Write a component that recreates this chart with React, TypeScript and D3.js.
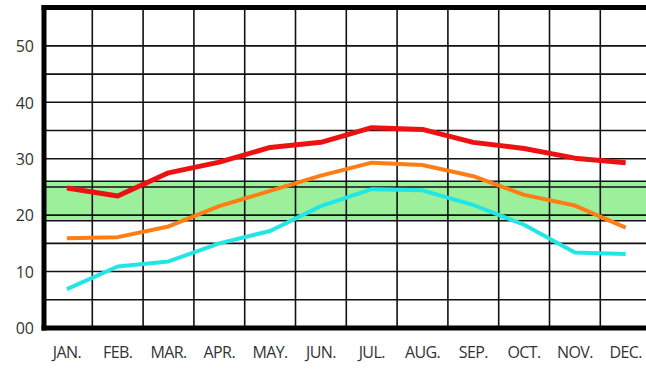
import React from "react";
import * as d3 from "d3";

const months = ["JAN.", "FEB.", "MAR.", "APR.", "MAY.", "JUN.", "JUL.", "AUG.", "SEP.", "OCT.", "NOV.", "DEC."];
const maxTemp = [24.8, 23.4, 27.5, 29.4, 32.0, 32.9, 35.5, 35.2, 32.9, 31.8, 30.1, 29.3];
const meanTemp = [15.9, 16.1, 18.0, 21.6, 24.3, 27.0, 29.3, 28.9, 26.9, 23.6, 21.7, 17.8];
const minTemp = [6.9, 10.9, 11.8, 15.0, 17.2, 21.6, 24.6, 24.4, 21.8, 18.3, 13.4, 13.1];
const yTicks = [0, 10, 20, 30, 40, 50];
const yTickLabels = ["00", "10", "20", "30", "40", "50"];
const gridValues = [5, 10, 15, 20, 25, 30, 35, 40, 45, 50];
const comfortBand = [19, 26];

const W = 646;
const H = 370;

export default function App() {
  const y = d3.scaleLinear().domain([0, 56.8]).range([328, 7.5]);
  const x = d3.scaleBand<string>().domain(months).range([41.5, 651.1]);
  const cx = (m: string) => (x(m) as number) + x.bandwidth() / 2;

  const line = d3
    .line<number>()
    .x((_, i) => cx(months[i]))
    .y((d) => y(d))
    .curve(d3.curveLinear);

  const series = [
    { values: minTemp, color: "#22e6e6", width: 4 },
    { values: meanTemp, color: "#ff7d14", width: 4 },
    { values: maxTemp, color: "#ec1212", width: 5 },
  ];

  return (
    <svg
      width={W}
      height={H}
      style={{ position: "absolute", left: 0, top: 0, background: "#fff" }}
      fontFamily="'Open Sans', sans-serif"
    >
      <rect
        x={44}
        width={W}
        y={y(comfortBand[1])}
        height={y(comfortBand[0]) - y(comfortBand[1])}
        fill="#9cf09c"
      />
      {[...gridValues, ...comfortBand].map((v, i) => (
        <line key={"h" + i} x1={44} x2={W} y1={y(v)} y2={y(v)} stroke="#111" strokeWidth={1.6} />
      ))}
      {months.map((m, i) =>
        i === 0 ? null : (
          <line
            key={"v" + m}
            x1={x(m) as number}
            x2={x(m) as number}
            y1={y(56.8)}
            y2={y(0)}
            stroke="#111"
            strokeWidth={1.6}
          />
        )
      )}
      {series.map((s, i) => (
        <path
          key={"s" + i}
          d={line(s.values) as string}
          fill="none"
          stroke={s.color}
          strokeWidth={s.width}
          strokeLinecap="butt"
          strokeLinejoin="round"
        />
      ))}
      <line x1={44} x2={44} y1={5} y2={330.5} stroke="#000" strokeWidth={5} />
      <line x1={41.5} x2={W} y1={y(56.8)} y2={y(56.8)} stroke="#000" strokeWidth={5} />
      <line x1={41.5} x2={W} y1={y(0)} y2={y(0)} stroke="#000" strokeWidth={5} />
      {yTicks.map((v, i) => (
        <text
          key={"yl" + v}
          x={34}
          y={y(v) + 2}
          textAnchor="end"
          dominantBaseline="middle"
          fontSize={16}
          fill="#333"
        >
          {yTickLabels[i]}
        </text>
      ))}
      {months.map((m) => (
        <text
          key={"xl" + m}
          x={cx(m)}
          y={358}
          textAnchor="middle"
          fontSize={16}
          letterSpacing={-0.6}
          fill="#333"
        >
          {m}
        </text>
      ))}
    </svg>
  );
}
